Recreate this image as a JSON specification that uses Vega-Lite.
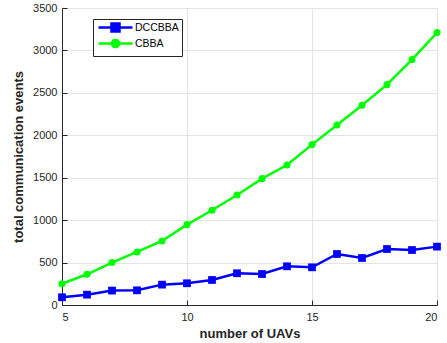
{
  "$schema": "https://vega.github.io/schema/vega-lite/v6.json",
  "width": 375,
  "height": 297,
  "autosize": {"type": "none"},
  "padding": {"left": 62, "top": 8, "right": 10, "bottom": 38},
  "background": "white",
  "config": {
    "view": {"stroke": null},
    "font": "Liberation Sans",
    "axis": {
      "gridColor": "#e3e3e3",
      "gridOpacity": 1,
      "gridWidth": 1,
      "domainColor": "#262626",
      "tickColor": "#262626",
      "domainWidth": 1,
      "tickSize": -5,
      "labelFont": "Liberation Sans",
      "labelFontSize": 11,
      "labelColor": "#262626",
      "titleFont": "Liberation Sans",
      "titleFontSize": 13,
      "titleFontWeight": "bold",
      "titleColor": "#262626"
    },
    "legend": {
      "orient": "none",
      "legendX": 31,
      "legendY": 11,
      "fillColor": "white",
      "strokeColor": "#262626",
      "padding": 3,
      "cornerRadius": 0,
      "symbolSize": 64,
      "symbolOffset": 14,
      "labelOffset": 14,
      "labelFontSize": 10.5,
      "labelColor": "#000000",
      "labelFont": "Liberation Sans",
      "rowPadding": -3
    }
  },
  "data": {
    "values": [
      {"uavs": 5, "events": 91, "algo": "DCCBBA"},
      {"uavs": 6, "events": 122, "algo": "DCCBBA"},
      {"uavs": 7, "events": 170, "algo": "DCCBBA"},
      {"uavs": 8, "events": 173, "algo": "DCCBBA"},
      {"uavs": 9, "events": 240, "algo": "DCCBBA"},
      {"uavs": 10, "events": 256, "algo": "DCCBBA"},
      {"uavs": 11, "events": 295, "algo": "DCCBBA"},
      {"uavs": 12, "events": 374, "algo": "DCCBBA"},
      {"uavs": 13, "events": 365, "algo": "DCCBBA"},
      {"uavs": 14, "events": 456, "algo": "DCCBBA"},
      {"uavs": 15, "events": 444, "algo": "DCCBBA"},
      {"uavs": 16, "events": 601, "algo": "DCCBBA"},
      {"uavs": 17, "events": 554, "algo": "DCCBBA"},
      {"uavs": 18, "events": 660, "algo": "DCCBBA"},
      {"uavs": 19, "events": 648, "algo": "DCCBBA"},
      {"uavs": 20, "events": 688, "algo": "DCCBBA"},
      {"uavs": 5, "events": 250, "algo": "CBBA"},
      {"uavs": 6, "events": 362, "algo": "CBBA"},
      {"uavs": 7, "events": 500, "algo": "CBBA"},
      {"uavs": 8, "events": 625, "algo": "CBBA"},
      {"uavs": 9, "events": 754, "algo": "CBBA"},
      {"uavs": 10, "events": 947, "algo": "CBBA"},
      {"uavs": 11, "events": 1116, "algo": "CBBA"},
      {"uavs": 12, "events": 1296, "algo": "CBBA"},
      {"uavs": 13, "events": 1489, "algo": "CBBA"},
      {"uavs": 14, "events": 1650, "algo": "CBBA"},
      {"uavs": 15, "events": 1890, "algo": "CBBA"},
      {"uavs": 16, "events": 2121, "algo": "CBBA"},
      {"uavs": 17, "events": 2353, "algo": "CBBA"},
      {"uavs": 18, "events": 2597, "algo": "CBBA"},
      {"uavs": 19, "events": 2892, "algo": "CBBA"},
      {"uavs": 20, "events": 3210, "algo": "CBBA"}
    ]
  },
  "encoding": {
    "x": {
      "field": "uavs",
      "type": "quantitative",
      "scale": {"domain": [5, 20], "nice": false, "zero": false},
      "axis": {"values": [5, 10, 15, 20], "title": "number of UAVs", "labelPadding": 11, "titlePadding": 5}
    },
    "y": {
      "field": "events",
      "type": "quantitative",
      "scale": {"domain": [0, 3500], "nice": false},
      "axis": {"values": [0, 500, 1000, 1500, 2000, 2500, 3000, 3500], "format": "d", "title": "total communication events", "labelPadding": 10, "titlePadding": 7}
    },
    "color": {
      "field": "algo",
      "type": "nominal",
      "scale": {"domain": ["DCCBBA", "CBBA"], "range": ["#0000ff", "#00ff00"]},
      "legend": {
        "title": null,
        "orient": "none",
        "legendX": 31,
        "legendY": 11,
        "encode": {
          "symbols": {
            "update": {
              "shape": [
                {"test": "datum.value === 'DCCBBA'", "value": "M-4.25,0H4.25M-1,-1H1V1H-1Z"},
                {"value": "M-4.25,0H4.25M-0.9,0A0.9,0.9 0 1,0 0.9,0A0.9,0.9 0 1,0 -0.9,0Z"}
              ],
              "fill": [
                {"test": "datum.value === 'DCCBBA'", "value": "#0000ff"},
                {"value": "#00ff00"}
              ],
              "stroke": [
                {"test": "datum.value === 'DCCBBA'", "value": "#0000ff"},
                {"value": "#00ff00"}
              ],
              "strokeWidth": {"value": 2.5},
              "opacity": {"value": 1}
            }
          }
        }
      }
    }
  },
  "layer": [
    {
      "mark": {"type": "line", "strokeWidth": 2.5}
    },
    {
      "transform": [{"filter": "datum.algo === 'DCCBBA'"}],
      "mark": {"type": "point", "filled": true, "opacity": 1, "size": 60, "shape": "square"}
    },
    {
      "transform": [{"filter": "datum.algo === 'CBBA'"}],
      "mark": {"type": "point", "filled": true, "opacity": 1, "size": 50, "shape": "circle"}
    }
  ]
}
